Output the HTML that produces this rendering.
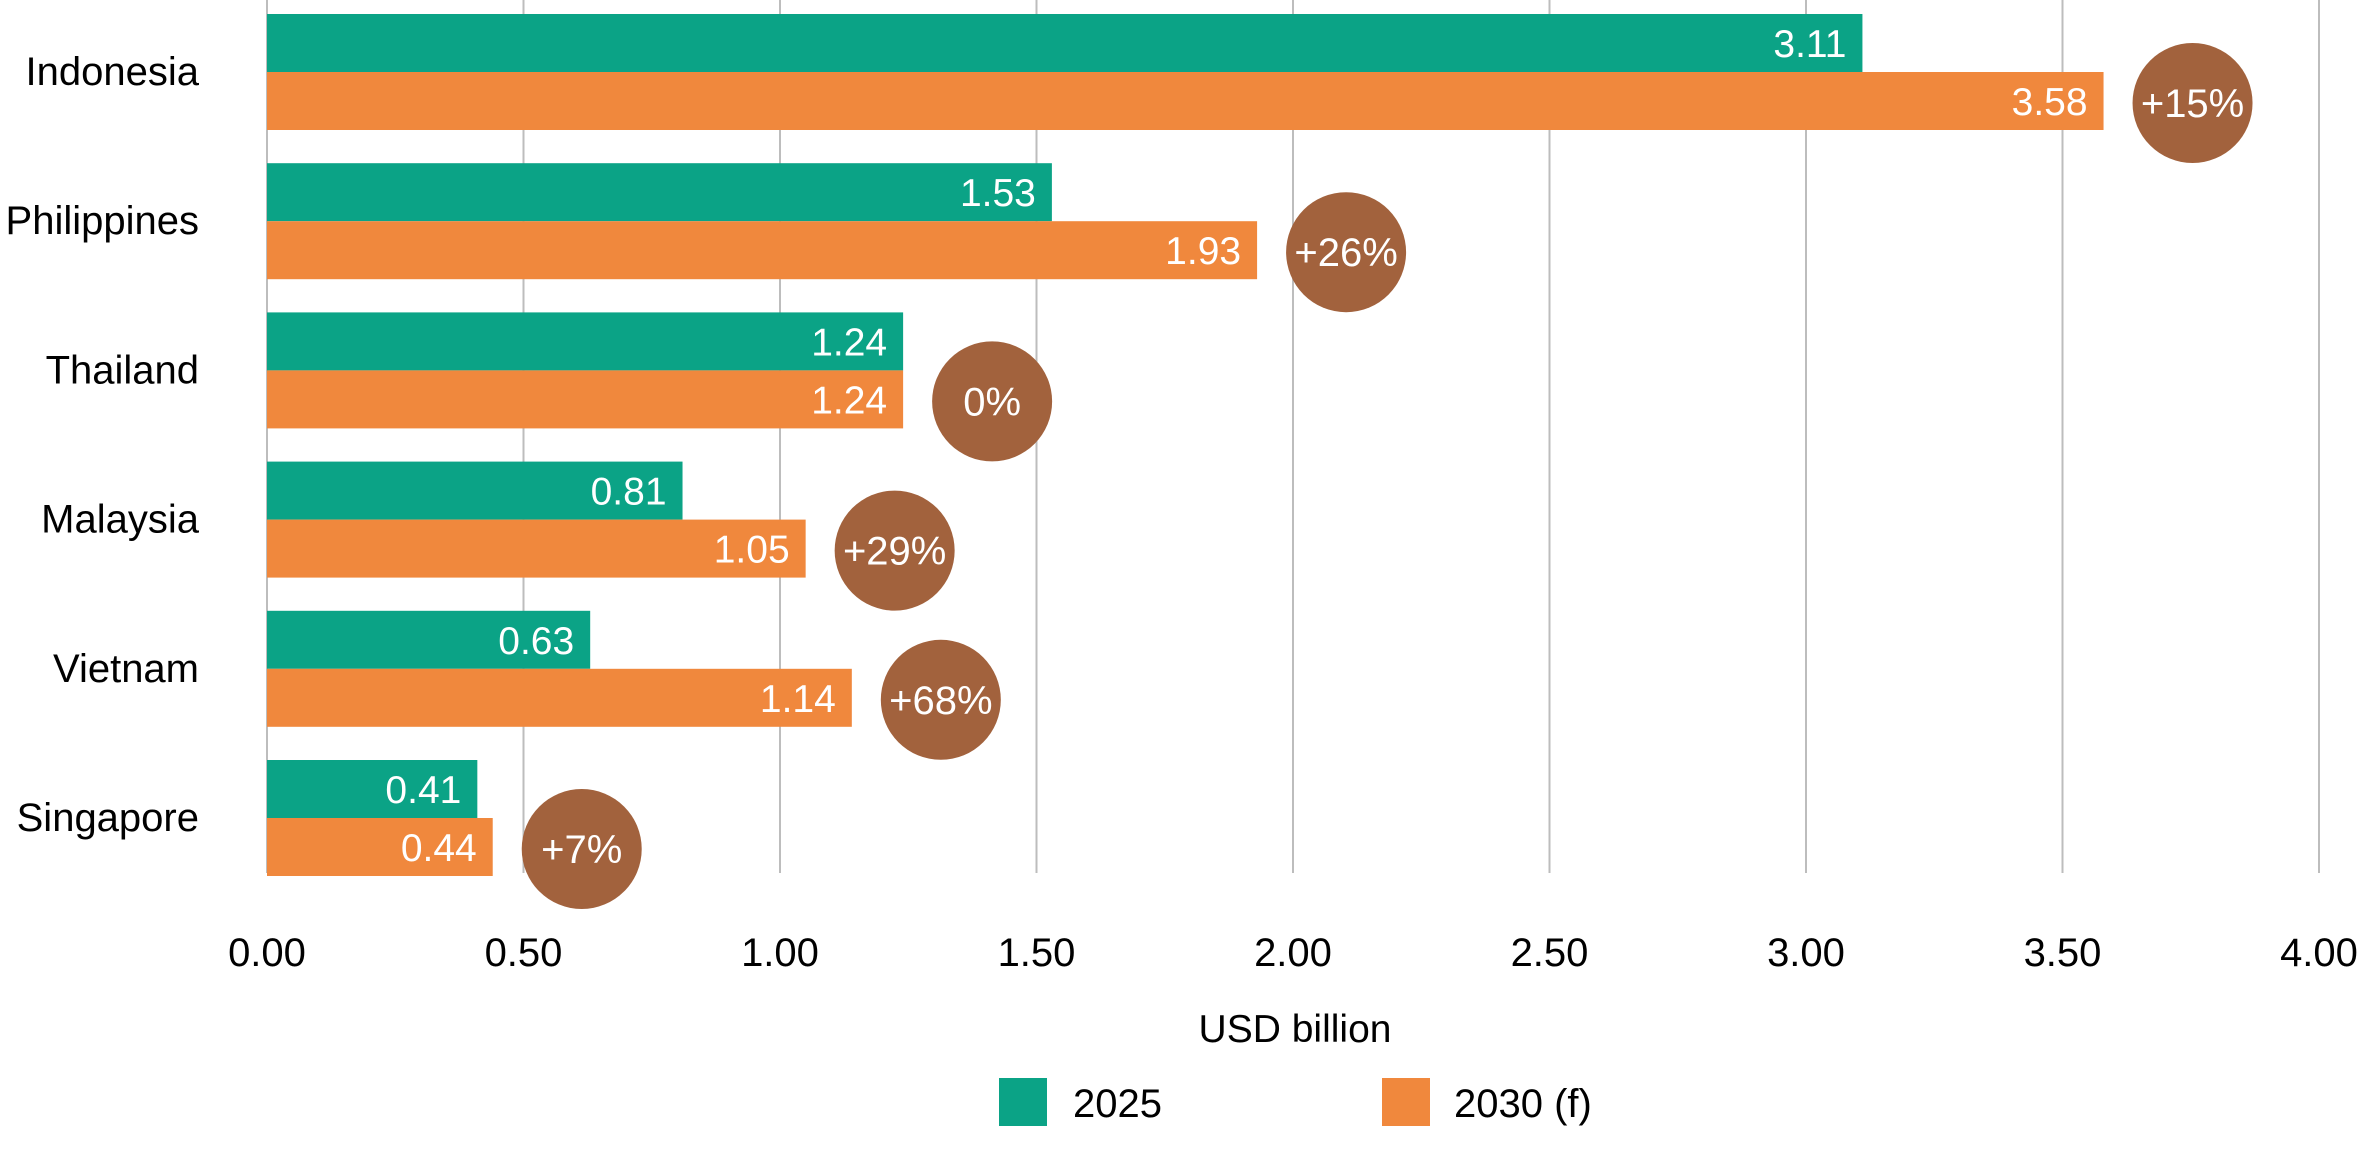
<!DOCTYPE html>
<html><head><meta charset="utf-8"><style>
html,body{margin:0;padding:0;background:#fff;}
svg{display:block;font-family:"Liberation Sans",sans-serif;}
</style></head><body>
<svg id="chart" width="2365" height="1150" viewBox="0 0 2365 1150" xmlns="http://www.w3.org/2000/svg">
<g id="grid"></g>
<g id="bars"></g>
<g id="labels"></g>
<text x="1295" y="1042" font-size="39" text-anchor="middle" fill="#000">USD billion</text>
<g>
<rect x="999" y="1078" width="48" height="48" fill="#0BA386"/>
<text x="1073" y="1117" font-size="40" fill="#000">2025</text>
<rect x="1382" y="1078" width="48" height="48" fill="#F0883D"/>
<text x="1454" y="1117" font-size="40" fill="#000">2030 (f)</text>
</g>
</svg>
<script>
const categories = ["Indonesia","Philippines","Thailand","Malaysia","Vietnam","Singapore"];
const values2025 = [3.11,1.53,1.24,0.81,0.63,0.41];
const values2030 = [3.58,1.93,1.24,1.05,1.14,0.44];
const growthLabels = ["+15%","+26%","0%","+29%","+68%","+7%"];
const tickValues = [0,0.5,1,1.5,2,2.5,3,3.5,4];
const tickLabels = ["0.00","0.50","1.00","1.50","2.00","2.50","3.00","3.50","4.00"];

const NS="http://www.w3.org/2000/svg";
const x0=267, pxPerUnit=513, top0=14, pitch=149.2, barH=58;
function xScale(v){return x0+v*pxPerUnit;}
function yGroup(i){return top0+i*pitch;}
function mk(tag,attrs,parent){const e=document.createElementNS(NS,tag);for(const k in attrs)e.setAttribute(k,attrs[k]);parent.appendChild(e);return e;}
const grid=document.getElementById('grid'),bars=document.getElementById('bars'),labels=document.getElementById('labels');
tickValues.forEach((t,i)=>{
  const l=mk('line',{x1:xScale(t),x2:xScale(t),y1:0,y2:873,stroke:'#bdbdbd','stroke-width':2},grid);
  
  
  const tx=mk('text',{x:xScale(t),y:966,'font-size':40,'text-anchor':'middle',fill:'#000'},grid);
  tx.textContent=tickLabels[i];
  
  
});
categories.forEach((c,i)=>{
  const y=yGroup(i);
  const cl=mk('text',{x:199,y:y+barH+13,'font-size':40,'text-anchor':'end',fill:'#000'},labels);
  cl.textContent=c;
  
  
  const b1=mk('rect',{x:x0,y:y,width:xScale(values2025[i])-x0,height:barH,fill:'#0BA386'},bars);
  
  
  const b2=mk('rect',{x:x0,y:y+barH,width:xScale(values2030[i])-x0,height:barH,fill:'#F0883D'},bars);
  
  
  const v1=mk('text',{x:xScale(values2025[i])-16,y:y+barH/2+14,'font-size':39,'text-anchor':'end',fill:'#fff'},labels);
  v1.textContent=values2025[i].toFixed(2);
  
  
  const v2=mk('text',{x:xScale(values2030[i])-16,y:y+barH*1.5+14,'font-size':39,'text-anchor':'end',fill:'#fff'},labels);
  v2.textContent=values2030[i].toFixed(2);
  
  
  const cx=xScale(values2030[i])+89, cy=y+barH*1.5+2;
  const ci=mk('circle',{cx:cx,cy:cy,r:60,fill:'#A2623D'},labels);
  
  
  const gt=mk('text',{x:cx,y:cy+14,'font-size':40,'text-anchor':'middle',fill:'#fff'},labels);
  gt.textContent=growthLabels[i];
  
  
});
</script>
</body></html>
